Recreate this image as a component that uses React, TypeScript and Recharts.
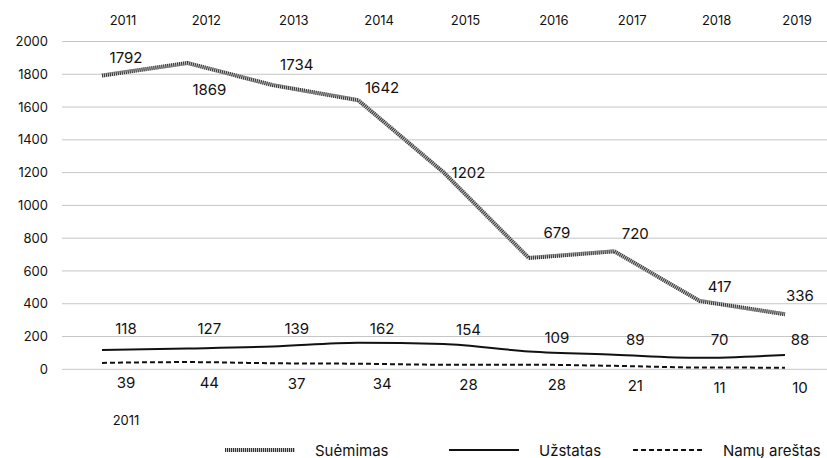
import { CartesianGrid, LabelList, Line, LineChart, XAxis, YAxis } from "recharts";

const years = ["2011", "2012", "2013", "2014", "2015", "2016", "2017", "2018", "2019"];
const suemimas = [1792, 1869, 1734, 1642, 1202, 679, 720, 417, 336];
const uzstatas = [118, 127, 139, 162, 154, 109, 89, 70, 88];
const namuArestas = [39, 44, 37, 34, 28, 28, 21, 11, 10];
const yTicks = [0, 200, 400, 600, 800, 1000, 1200, 1400, 1600, 1800, 2000];

const data = years.map((year, i) => ({
  year,
  suemimas: suemimas[i],
  uzstatas: uzstatas[i],
  namu: namuArestas[i],
}));

// label placement (the reference shifts every label right of its point)
const labelDx = [24, 22, 24, 24, 25, 28, 21, 20, 15];
const suemimasDy = [-18, 27, -21, -13, 0, -26, -18, -14, -19];
const uzstatasDy = [-21, -20, -18, -14, -15, -14, -15, -18, -15];
const namuDy = [20, 20, 20, 20, 20, 20, 20, 20, 20];

const FONT = "Inter, 'Noto Sans', sans-serif";
const W = 827;
const H = 458;
const PAD = { left: 40, right: 42 };

function makeLabel(dy: number[]) {
  return (props: any) => {
    const { x, y, index, value } = props;
    return (
      <text
        x={x + labelDx[index]}
        y={y + dy[index]}
        textAnchor="middle"
        dominantBaseline="central"
        fontSize={15}
        fontFamily={FONT}
        fill="#111"
      >
        {value}
      </text>
    );
  };
}

function TopTick(props: any) {
  const { x, payload, index } = props;
  return (
    <text x={x + labelDx[index] - 3} y={20} textAnchor="middle" dominantBaseline="central" fontSize={13} fontFamily={FONT} fill="#111">
      {payload.value}
    </text>
  );
}

function BottomTick(props: any) {
  const { x, payload, index } = props;
  if (index !== 0) return <g />;
  return (
    <text x={x + labelDx[index]} y={420} textAnchor="middle" dominantBaseline="central" fontSize={13} fontFamily={FONT} fill="#111">
      {payload.value}
    </text>
  );
}

function Swatch({ kind }: { kind: string }) {
  return (
    <svg width={70} height={8} style={{ display: "block" }}>
      {kind === "hatch" && (
        <>
          <line x1={0} y1={4} x2={70} y2={4} stroke="#c4c4c4" strokeWidth={4} />
          <line x1={0} y1={4} x2={70} y2={4} stroke="#333" strokeWidth={4} strokeDasharray="1 1" />
        </>
      )}
      {kind === "solid" && <line x1={0} y1={4} x2={70} y2={4} stroke="#111" strokeWidth={2} />}
      {kind === "dash" && <line x1={0} y1={4} x2={70} y2={4} stroke="#111" strokeWidth={2} strokeDasharray="5 3" />}
    </svg>
  );
}

const legendItems = [
  { name: "Suėmimas", kind: "hatch", left: 225 },
  { name: "Užstatas", kind: "solid", left: 449 },
  { name: "Namų areštas", kind: "dash", left: 633 },
];

export default function App() {
  return (
    <div style={{ position: "absolute", left: 0, top: 0, width: W, height: H, background: "#fff", fontFamily: FONT }}>
      <LineChart width={W} height={H} data={data} margin={{ top: 0, right: 0, left: 0, bottom: 0 }}>
        <CartesianGrid stroke="#c6c6c6" vertical={false} xAxisId="top" />
        <XAxis xAxisId="top" dataKey="year" orientation="top" height={41.5} padding={PAD} axisLine={false} tickLine={false} tick={<TopTick />} interval={0} />
        <XAxis xAxisId="bottom" dataKey="year" orientation="bottom" height={88.7} padding={PAD} axisLine={false} tickLine={false} tick={<BottomTick />} interval={0} />
        <YAxis
          domain={[0, 2000]}
          ticks={yTicks}
          width={62}
          axisLine={false}
          tickLine={false}
          tickMargin={8}
          tick={{ fontSize: 13, fill: "#111", fontFamily: FONT }}
          interval={0}
        />
        <Line xAxisId="top" dataKey="suemimas" type="linear" stroke="#c4c4c4" strokeWidth={4} dot={false} isAnimationActive={false} />
        <Line xAxisId="top" dataKey="suemimas" type="linear" stroke="#333" strokeWidth={4} strokeDasharray="1 1" dot={false} isAnimationActive={false}>
          <LabelList dataKey="suemimas" content={makeLabel(suemimasDy)} />
        </Line>
        <Line xAxisId="top" dataKey="uzstatas" type="monotone" stroke="#111" strokeWidth={2} dot={false} isAnimationActive={false}>
          <LabelList dataKey="uzstatas" content={makeLabel(uzstatasDy)} />
        </Line>
        <Line xAxisId="top" dataKey="namu" type="monotone" stroke="#111" strokeWidth={2} strokeDasharray="5 3" dot={false} isAnimationActive={false}>
          <LabelList dataKey="namu" content={makeLabel(namuDy)} />
        </Line>
      </LineChart>
      {legendItems.map((it) => (
        <div key={it.name} style={{ position: "absolute", left: it.left, top: 439, height: 22, display: "flex", alignItems: "center", gap: 20, fontSize: 15, color: "#111" }}>
          <Swatch kind={it.kind} />
          <span>{it.name}</span>
        </div>
      ))}
    </div>
  );
}
